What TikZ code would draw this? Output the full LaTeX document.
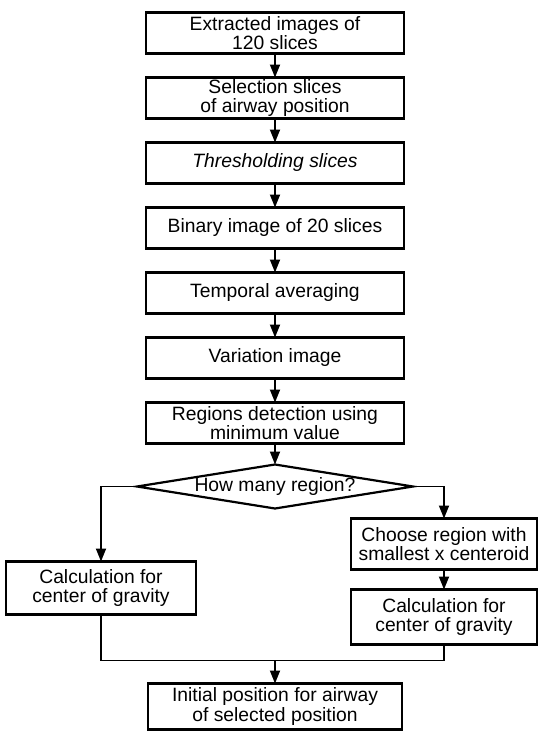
\documentclass[tikz,border=0pt]{standalone}
\usepackage{fontspec}
\setmainfont{Liberation Sans}
\usepackage{tikz}
\usetikzlibrary{arrows.meta,shapes,positioning}

\begin{document}
\begin{tikzpicture}[node distance=24pt, x=1pt, y=1pt,
    box/.style={draw,rectangle,line width=2.2pt,outer sep=0pt,minimum width=258pt,minimum height=41pt,inner sep=1pt,align=center,font=\fontsize{19.3}{19.5}\selectfont},
    link/.style={line width=1.8pt,-{Triangle[length=13pt,width=10pt]}}]
    \useasboundingbox (0,0) rectangle (541,-731);

    % Main column
    \node[box] (extract) at (275,-33) {Extracted images of\\120 slices};
    \node[box, below=of extract] (select) {Selection slices\\of airway position};
    \node[box, below=of select] (thresh) {\itshape Thresholding slices};
    \node[box, below=of thresh] (binary) {Binary image of 20 slices};
    \node[box, below=of binary] (average) {Temporal averaging};
    \node[box, below=of average] (variation) {Variation image};
    \node[box, below=of variation] (detect) {Regions detection using\\minimum value};

    % Decision
    \node[draw,diamond,line width=2.2pt,outer sep=0pt,minimum width=276pt,minimum height=44pt,aspect=6.3,inner sep=0pt,
          font=\fontsize{19.3}{19.5}\selectfont, below=21pt of detect] (howmany) {How many region?};

    % Branches
    \node[box, minimum width=190pt, minimum height=53pt, below=75pt of howmany.west, xshift=-36pt] (gravleft) {Calculation for\\center of gravity};
    \node[box, minimum width=186pt, minimum height=51pt, below=32pt of howmany.east, xshift=31pt] (choose) {Choose region with\\smallest x centeroid};
    \node[box, minimum width=186pt, minimum height=55pt, below=20pt of choose] (gravright) {Calculation for\\center of gravity};

    % Result
    \node[box, minimum width=254pt, minimum height=46pt, below=175pt of howmany.south] (initial) {Initial position for airway\\of selected position};
    \coordinate[above=23pt of initial] (join);

    % Connections
    \draw[link] (extract) -- (select);
    \draw[link] (select) -- (thresh);
    \draw[link] (thresh) -- (binary);
    \draw[link] (binary) -- (average);
    \draw[link] (average) -- (variation);
    \draw[link] (variation) -- (detect);
    \draw[link] (detect) -- (howmany);
    \draw[link] (howmany.west) -| (gravleft);
    \draw[link] (howmany.east) -| (choose);
    \draw[link] (choose) -- (gravright);
    \draw[line width=1.8pt] (gravleft) |- (join) -| (gravright);
    \draw[link] (join) -- (initial);
\end{tikzpicture}
\end{document}
